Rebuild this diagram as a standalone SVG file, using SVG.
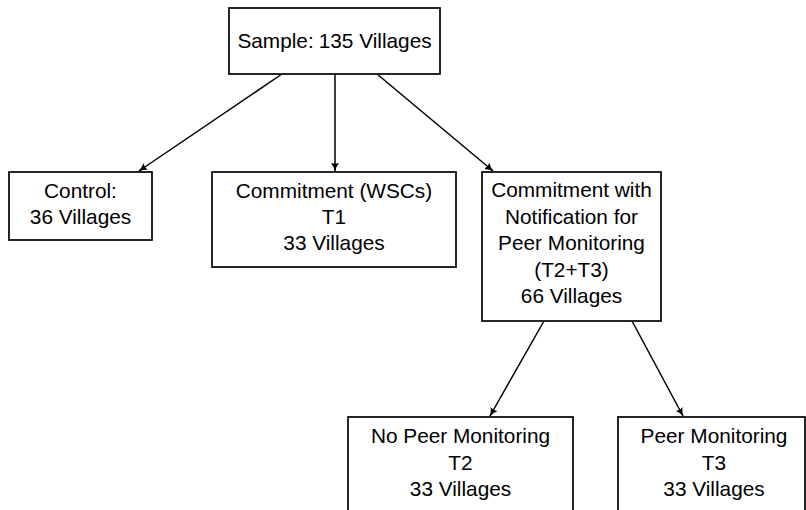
<svg xmlns="http://www.w3.org/2000/svg" width="806" height="510" viewBox="0 0 806 510">
<defs>
<style>
.box{fill:#fff;stroke:#000;stroke-width:1.7}
.t{font-family:"Liberation Sans","DejaVu Sans",sans-serif;font-size:20.8px;fill:#000;text-anchor:middle}
.c{stroke:#000;stroke-width:1.5;fill:none;marker-end:url(#ah)}
</style>
<marker id="ah" viewBox="0 0 10 10" refX="9" refY="5" markerWidth="9" markerHeight="9" markerUnits="userSpaceOnUse" orient="auto">
<path d="M0,0.5 Q4,4 10,5 Q4,6 0,9.5 Q2,5 0,0.5Z" fill="#000"/>
</marker>
</defs>
<rect width="806" height="510" fill="#fff"/>
<g id="connectors">
<line class="c" x1="282" y1="74" x2="139" y2="171"/>
<line class="c" x1="335" y1="74" x2="335" y2="171"/>
<line class="c" x1="377" y1="74" x2="493" y2="171"/>
<line class="c" x1="544" y1="321" x2="490" y2="416"/>
<line class="c" x1="632" y1="321" x2="683" y2="416"/>
</g>
<g id="sample">
<rect class="box" x="229" y="8" width="211" height="66"/>
<text class="t" x="334.5" y="48">Sample:<tspan dx="5">135 Villages</tspan></text>
</g>
<g id="control">
<rect class="box" x="9" y="172" width="143" height="68"/>
<text class="t" x="80.5" y="198">Control:</text>
<text class="t" x="80.5" y="224">36 Villages</text>
</g>
<g id="t1">
<rect class="box" x="212" y="172" width="244" height="95"/>
<text class="t" x="334" y="198">Commitment (WSCs)</text>
<text class="t" x="334" y="224">T1</text>
<text class="t" x="334" y="250">33 Villages</text>
</g>
<g id="t23">
<rect class="box" x="482" y="172" width="179" height="149"/>
<text class="t" x="571.5" y="197">Commitment with</text>
<text class="t" x="571.5" y="224">Notification for</text>
<text class="t" x="571.5" y="250">Peer Monitoring</text>
<text class="t" x="571.5" y="277">(T2+T3)</text>
<text class="t" x="571.5" y="303">66 Villages</text>
</g>
<g id="t2">
<rect class="box" x="348" y="417" width="225" height="110"/>
<text class="t" x="460.5" y="443">No Peer Monitoring</text>
<text class="t" x="460.5" y="470">T2</text>
<text class="t" x="460.5" y="496">33 Villages</text>
</g>
<g id="t3">
<rect class="box" x="618" y="417" width="187" height="110"/>
<text class="t" x="714" y="443">Peer Monitoring</text>
<text class="t" x="714" y="470">T3</text>
<text class="t" x="714" y="496">33 Villages</text>
</g>
</svg>
